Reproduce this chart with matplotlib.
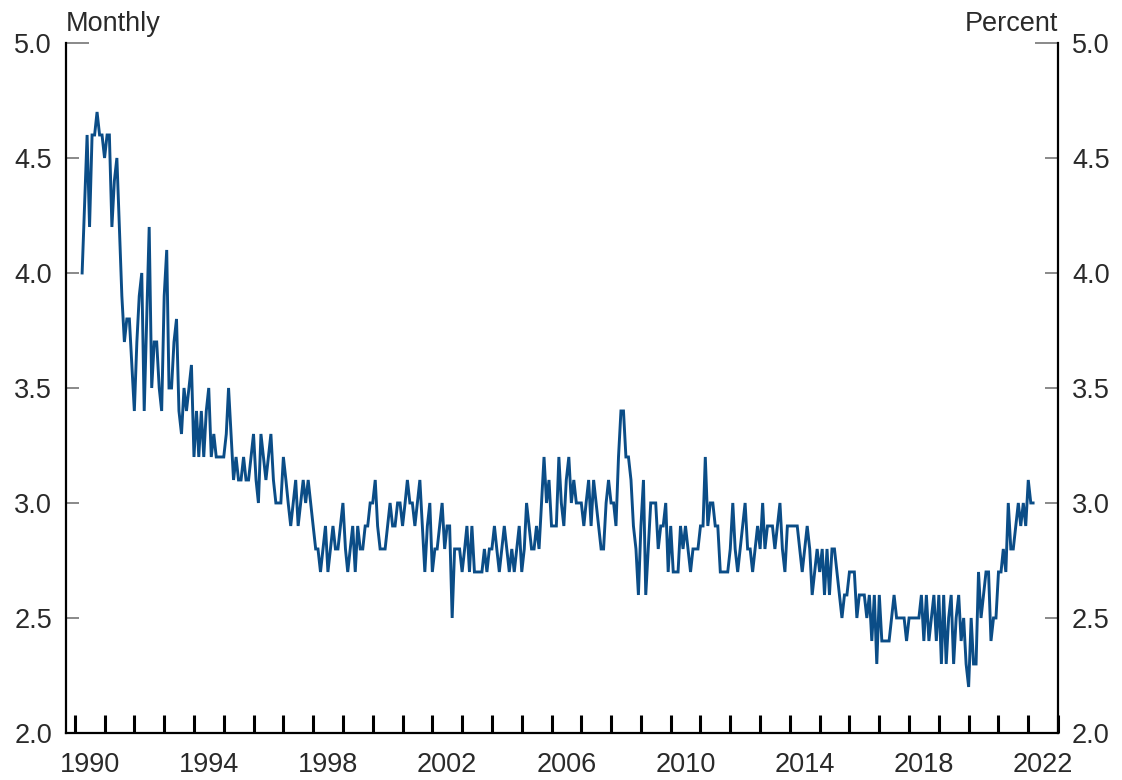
import numpy as np
import pandas as pd
import matplotlib
matplotlib.use("Agg")
import matplotlib.pyplot as plt
import matplotlib.dates as mdates
import matplotlib.ticker as mticker

# Monthly series, starting April 1990 (percent)
start_month = "1990-04-01"
values = [
    # 1990 (Apr-Dec)
    4.0, 4.3, 4.6, 4.2, 4.6, 4.6, 4.7, 4.6, 4.6,
    # 1991
    4.5, 4.6, 4.6, 4.2, 4.4, 4.5, 4.2, 3.9, 3.7, 3.8, 3.8, 3.6,
    # 1992
    3.4, 3.7, 3.9, 4.0, 3.4, 3.8, 4.2, 3.5, 3.7, 3.7, 3.5, 3.4,
    # 1993
    3.9, 4.1, 3.5, 3.5, 3.7, 3.8, 3.4, 3.3, 3.5, 3.4, 3.5, 3.6,
    # 1994
    3.2, 3.4, 3.2, 3.4, 3.2, 3.4, 3.5, 3.2, 3.3, 3.2, 3.2, 3.2,
    # 1995
    3.2, 3.3, 3.5, 3.3, 3.1, 3.2, 3.1, 3.1, 3.2, 3.1, 3.1, 3.2,
    # 1996
    3.3, 3.1, 3.0, 3.3, 3.2, 3.1, 3.2, 3.3, 3.1, 3.0, 3.0, 3.0,
    # 1997
    3.2, 3.1, 3.0, 2.9, 3.0, 3.1, 2.9, 3.0, 3.1, 3.0, 3.1, 3.0,
    # 1998
    2.9, 2.8, 2.8, 2.7, 2.8, 2.9, 2.7, 2.8, 2.9, 2.8, 2.8, 2.9,
    # 1999
    3.0, 2.8, 2.7, 2.8, 2.9, 2.7, 2.9, 2.8, 2.8, 2.9, 2.9, 3.0,
    # 2000
    3.0, 3.1, 2.9, 2.8, 2.8, 2.8, 2.9, 3.0, 2.9, 2.9, 3.0, 3.0,
    # 2001
    2.9, 3.0, 3.1, 3.0, 3.0, 2.9, 3.0, 3.1, 2.9, 2.7, 2.9, 3.0,
    # 2002
    2.7, 2.8, 2.8, 2.9, 3.0, 2.8, 2.9, 2.9, 2.5, 2.8, 2.8, 2.8,
    # 2003
    2.7, 2.8, 2.9, 2.7, 2.9, 2.7, 2.7, 2.7, 2.7, 2.8, 2.7, 2.8,
    # 2004
    2.8, 2.9, 2.8, 2.7, 2.8, 2.9, 2.8, 2.7, 2.8, 2.7, 2.8, 2.9,
    # 2005
    2.7, 2.8, 3.0, 2.9, 2.8, 2.8, 2.9, 2.8, 3.0, 3.2, 3.0, 3.1,
    # 2006
    2.9, 2.9, 2.9, 3.2, 3.0, 2.9, 3.1, 3.2, 3.0, 3.1, 3.0, 3.0,
    # 2007
    3.0, 2.9, 3.0, 3.1, 2.9, 3.1, 3.0, 2.9, 2.8, 2.8, 3.0, 3.1,
    # 2008
    3.0, 3.0, 2.9, 3.2, 3.4, 3.4, 3.2, 3.2, 3.1, 2.9, 2.8, 2.6,
    # 2009
    2.9, 3.1, 2.6, 2.8, 3.0, 3.0, 3.0, 2.8, 2.9, 2.9, 3.0, 2.7,
    # 2010
    2.9, 2.7, 2.7, 2.7, 2.9, 2.8, 2.9, 2.8, 2.7, 2.8, 2.8, 2.8,
    # 2011
    2.9, 2.9, 3.2, 2.9, 3.0, 3.0, 2.9, 2.9, 2.7, 2.7, 2.7, 2.7,
    # 2012
    2.8, 3.0, 2.8, 2.7, 2.8, 2.9, 3.0, 2.8, 2.8, 2.7, 2.8, 2.9,
    # 2013
    2.8, 3.0, 2.8, 2.9, 2.9, 2.9, 2.8, 2.9, 3.0, 2.8, 2.7, 2.9,
    # 2014
    2.9, 2.9, 2.9, 2.9, 2.8, 2.7, 2.8, 2.9, 2.8, 2.6, 2.7, 2.8,
    # 2015
    2.7, 2.8, 2.6, 2.8, 2.6, 2.8, 2.8, 2.7, 2.6, 2.5, 2.6, 2.6,
    # 2016
    2.7, 2.7, 2.7, 2.5, 2.6, 2.6, 2.6, 2.5, 2.6, 2.4, 2.6, 2.3,
    # 2017
    2.6, 2.4, 2.4, 2.4, 2.4, 2.5, 2.6, 2.5, 2.5, 2.5, 2.5, 2.4,
    # 2018
    2.5, 2.5, 2.5, 2.5, 2.5, 2.6, 2.4, 2.6, 2.4, 2.5, 2.6, 2.4,
    # 2019
    2.6, 2.3, 2.6, 2.3, 2.5, 2.6, 2.3, 2.5, 2.6, 2.4, 2.5, 2.3,
    # 2020
    2.2, 2.5, 2.3, 2.3, 2.7, 2.5, 2.6, 2.7, 2.7, 2.4, 2.5, 2.5,
    # 2021
    2.7, 2.7, 2.8, 2.7, 3.0, 2.8, 2.8, 2.9, 3.0, 2.9, 3.0, 2.9,
    # 2022
    3.1, 3.0, 3.0,
]

label_years = [1990, 1994, 1998, 2002, 2006, 2010, 2014, 2018, 2022]
y_ticks = [2.0, 2.5, 3.0, 3.5, 4.0, 4.5, 5.0]

dates = pd.date_range(start_month, periods=len(values), freq="MS")
series = pd.Series(values, index=dates)

plt.rcParams["font.family"] = ["Liberation Sans", "DejaVu Sans"]
text_color = "#2a2a2a"
line_color = "#0b4d87"

fig = plt.figure(figsize=(11.22, 7.8), dpi=100)
ax = fig.add_axes([0.0588, 0.0603, 0.8842, 0.8846])

ax.plot(series.index, series.values, color=line_color, lw=2.1, solid_joinstyle="miter")

ax.set_ylim(2.0, 5.0)
ax.set_xlim(pd.Timestamp("1989-09-15"), pd.Timestamp("2023-01-01"))

# spines
ax.spines["top"].set_visible(False)
for side in ["left", "right", "bottom"]:
    ax.spines[side].set_linewidth(1.6)
    ax.spines[side].set_color("black")

# y axis on both sides
ax.yaxis.set_major_locator(mticker.FixedLocator(y_ticks))
ax.yaxis.set_major_formatter(mticker.FormatStrFormatter("%.1f"))
ax.tick_params(axis="y", which="major", direction="in", length=9.5, width=1.3,
               color="#808080", left=True, right=True, labelleft=True,
               labelright=True, labelsize=19.5, labelcolor=text_color, pad=10)

# x axis: year ticks on Jan 1, labels centred mid-year
ax.xaxis.set_major_locator(mdates.YearLocator(1, month=1, day=1))
ax.xaxis.set_major_formatter(mticker.NullFormatter())
label_pos = mdates.date2num([pd.Timestamp(f"{y}-07-01") for y in label_years])
ax.xaxis.set_minor_locator(mticker.FixedLocator(label_pos))
ax.xaxis.set_minor_formatter(mticker.FixedFormatter([str(y) for y in label_years]))
ax.tick_params(axis="x", which="major", direction="in", length=13, width=2.2,
               color="black")
ax.tick_params(axis="x", which="minor", length=0, labelsize=19.5,
               labelcolor=text_color, pad=14)

# longer gray tick at the top value
top_tick = ax.yaxis.get_major_ticks()[-1]
top_tick.tick1line.set_markersize(16.5)
top_tick.tick2line.set_markersize(16.5)

ax.annotate("Monthly", xy=(0, 1), xycoords="axes fraction", xytext=(0, 8.5),
            textcoords="offset points", ha="left", va="baseline",
            fontsize=19.5, color=text_color)
ax.annotate("Percent", xy=(1, 1), xycoords="axes fraction", xytext=(0, 8.5),
            textcoords="offset points", ha="right", va="baseline",
            fontsize=19.5, color=text_color)

fig.savefig("out.png", dpi=100)
